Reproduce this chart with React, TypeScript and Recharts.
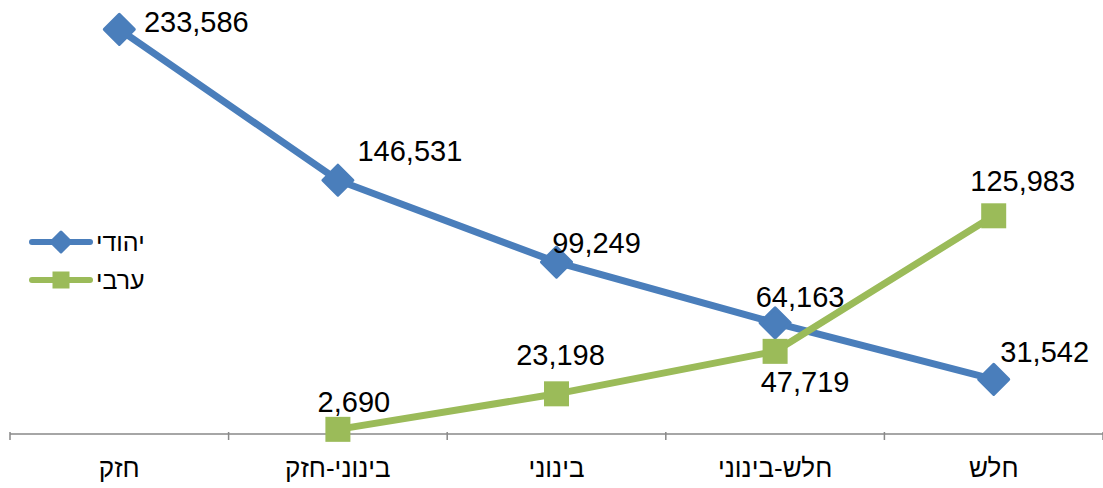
import { LineChart, Line, XAxis, YAxis, LabelList } from 'recharts';

const categories = ['חזק', 'בינוני-חזק', 'בינוני', 'חלש-בינוני', 'חלש'];
const jewishValues = [233586, 146531, 99249, 64163, 31542];
const arabValues: (number | null)[] = [null, 2690, 23198, 47719, 125983];
const seriesNames = ['יהודי', 'ערבי'];

const BLUE = '#4A7EBB';
const GREEN = '#9BBB59';
const AXIS = '#898989';
const FONT = '"Liberation Sans", Arial, sans-serif';

const WIDTH = 1103;
const HEIGHT = 488;
const MARGIN = { top: 1, right: 0, left: 10, bottom: 24 };
const HALF_BAND = (WIDTH - MARGIN.left - MARGIN.right) / categories.length / 2;

const chartData = categories.map((cat, i) => ({
  cat,
  jewish: jewishValues[i],
  arab: arabValues[i],
}));

// label placement relative to the point (centre x, baseline y), like the moved excel labels
const blueLabelShift = [[77, 3], [72, -19], [40, -9], [25, -16], [51, -17]];
const greenLabelShift = [[0, 0], [16, -17], [4, -29], [30, 41], [29, -25]];

const fmt = (v: number) => v.toLocaleString('en-US');

function Diamond({ cx, cy, half = 15, color = BLUE }: any) {
  if (cx == null || cy == null) return null;
  const r = half;
  return (
    <path
      d={`M${cx},${cy - r}L${cx + r},${cy}L${cx},${cy + r}L${cx - r},${cy}Z`}
      fill={color}
      stroke={color}
      strokeWidth={3}
      strokeLinejoin="round"
    />
  );
}

function Square({ cx, cy, side = 25, color = GREEN }: any) {
  if (cx == null || cy == null) return null;
  return <rect x={cx - side / 2} y={cy - side / 2} width={side} height={side} fill={color} />;
}

function makeLabel(shift: number[][]) {
  return (props: any) => {
    const { x, y, value, index } = props;
    if (value == null || x == null || y == null) return null;
    const [dx, dy] = shift[index];
    return (
      <text x={x + dx} y={y + dy} textAnchor="middle" fontSize={29} fontFamily={FONT} fill="#000">
        {fmt(value)}
      </text>
    );
  };
}

function CategoryTick(props: any) {
  const { x, y, payload, index } = props;
  const axisY = y - 10;
  return (
    <g>
      <line x1={x - HALF_BAND} y1={axisY} x2={x - HALF_BAND} y2={axisY + 8} stroke={AXIS} strokeWidth={1.5} />
      {index === categories.length - 1 && (
        <line x1={x + HALF_BAND} y1={axisY} x2={x + HALF_BAND} y2={axisY + 8} stroke={AXIS} strokeWidth={1.5} />
      )}
      <text x={x} y={axisY + 45} textAnchor="middle" fontSize={26} fontFamily={FONT} fill="#000">
        {payload.value}
      </text>
    </g>
  );
}

function ChartLegend() {
  const items = [
    { name: seriesNames[0], color: BLUE, marker: 'diamond' },
    { name: seriesNames[1], color: GREEN, marker: 'square' },
  ];
  return (
    <div style={{ position: 'absolute', left: 29, top: 223 }}>
      {items.map((it) => (
        <div key={it.name} style={{ display: 'flex', alignItems: 'center', height: 38 }}>
          <svg width={64} height={26}>
            <line x1={3} y1={13} x2={61} y2={13} stroke={it.color} strokeWidth={6} strokeLinecap="round" />
            {it.marker === 'diamond' ? (
              <Diamond cx={32} cy={13} half={10} color={it.color} />
            ) : (
              <Square cx={32} cy={13} side={17} color={it.color} />
            )}
          </svg>
          <span style={{ fontFamily: FONT, fontSize: 25, color: '#000', marginLeft: 3, lineHeight: 1 }}>{it.name}</span>
        </div>
      ))}
    </div>
  );
}

export default function App() {
  return (
    <div style={{ position: 'absolute', left: 0, top: 0, width: WIDTH, height: HEIGHT, background: '#fff' }}>
      <LineChart width={WIDTH} height={HEIGHT} data={chartData} margin={MARGIN}>
        <XAxis
          dataKey="cat"
          stroke={AXIS}
          strokeWidth={1.5}
          tickLine={false}
          tick={<CategoryTick />}
          interval={0}
          height={30}
          padding={{ left: HALF_BAND, right: HALF_BAND }}
        />
        <YAxis hide domain={[0, 250000]} />
        <Line
          type="linear"
          dataKey="jewish"
          name={seriesNames[0]}
          stroke={BLUE}
          strokeWidth={7}
          dot={<Diamond />}
          activeDot={false}
          isAnimationActive={false}
        >
          <LabelList dataKey="jewish" content={makeLabel(blueLabelShift)} />
        </Line>
        <Line
          type="linear"
          dataKey="arab"
          name={seriesNames[1]}
          stroke={GREEN}
          strokeWidth={7}
          dot={<Square />}
          activeDot={false}
          isAnimationActive={false}
        >
          <LabelList dataKey="arab" content={makeLabel(greenLabelShift)} />
        </Line>
      </LineChart>
      <ChartLegend />
    </div>
  );
}
